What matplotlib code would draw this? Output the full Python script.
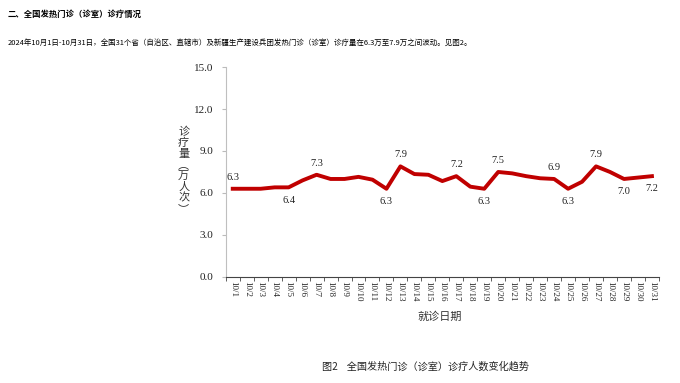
import matplotlib
matplotlib.use("Agg")
import matplotlib.pyplot as plt

dates = [f"10/{d}" for d in range(1, 32)]
values = [6.3, 6.3, 6.3, 6.4, 6.4, 6.9, 7.3, 7.0, 7.0, 7.15, 6.95, 6.3, 7.9, 7.35, 7.3,
          6.85, 7.2, 6.45, 6.3, 7.5, 7.4, 7.2, 7.05, 7.0, 6.3, 6.8, 7.9, 7.5, 7.0, 7.1, 7.2]
label_above = {0: "6.3", 6: "7.3", 12: "7.9", 16: "7.2", 19: "7.5", 23: "6.9", 26: "7.9"}
label_below = {4: "6.4", 11: "6.3", 18: "6.3", 24: "6.3", 28: "7.0", 30: "7.2"}
yticks = [0, 3, 6, 9, 12, 15]

cjk = ["Noto Sans CJK SC", "DejaVu Sans"]
serif = ["Liberation Serif", "DejaVu Serif"]

fig = plt.figure(figsize=(6.8, 3.83), dpi=100)
ax = fig.add_axes([0.332, 0.277, 0.637, 0.548])

x = list(range(len(dates)))
ax.plot(x, values, color="#C00000", lw=2.8, solid_joinstyle="round")
for i, t in label_above.items():
    ax.annotate(t, (x[i], values[i]), xytext=(0, 5), textcoords="offset points",
                ha="center", va="bottom", fontsize=7.5, family=serif, color="#222")
for i, t in label_below.items():
    ax.annotate(t, (x[i], values[i]), xytext=(0, -6), textcoords="offset points",
                ha="center", va="top", fontsize=7.5, family=serif, color="#222")

ax.set_xlim(-0.5, len(dates) - 0.5)
ax.set_ylim(0, 15)
ax.set_yticks(yticks)
ax.set_yticklabels([f"{v:.1f}" for v in yticks], family=serif, fontsize=8, color="#222")
ax.set_xticks(x)
ax.set_xticklabels(dates, rotation=270, family=serif, fontsize=6.5, color="#222")
ax.set_xticks([i - 0.5 for i in range(len(dates) + 1)], minor=True)
ax.tick_params(axis="x", which="major", length=0, pad=3)
ax.tick_params(axis="x", which="minor", length=3, color="#444", direction="out")
ax.tick_params(axis="y", length=3, color="#bbb", direction="out", pad=6)
for s in ["top", "right"]:
    ax.spines[s].set_visible(False)
ax.spines["left"].set_color("#bfbfbf")
ax.spines["bottom"].set_color("#444")

fig.text(0.011, 0.962, "二、全国发热门诊（诊室）诊疗情况", family=cjk, fontsize=6,
         fontweight="bold", va="center", ha="left")
fig.text(0.011, 0.888, "2024年10月1日-10月31日，全国31个省（自治区、直辖市）及新疆生产建设兵团发热门诊（诊室）诊疗量在6.3万至7.9万之间波动。见图2。",
         family=cjk, fontsize=5.4, va="center", ha="left")
fig.text(0.27, 0.555, "诊\n疗\n量\n︵\n万\n人\n次\n︶", family=cjk, fontsize=8,
         va="center", ha="center", linespacing=1.12, color="#333")
fig.text(0.647, 0.172, "就诊日期", family=cjk, fontsize=8, va="center", ha="center", color="#333")
fig.text(0.474, 0.044, "图2    全国发热门诊（诊室）诊疗人数变化趋势", family=cjk, fontsize=7.3,
         va="center", ha="left", color="#222")

fig.savefig("out.png", dpi=100)
